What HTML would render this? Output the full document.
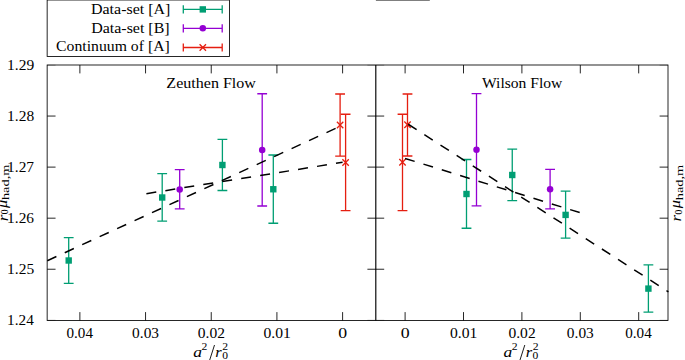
<!DOCTYPE html>
<html><head><meta charset="utf-8"><style>
html,body{margin:0;padding:0;background:#fff;}
body{width:685px;height:360px;overflow:hidden;}
svg{display:block;font-family:'Liberation Serif', serif;}
text{fill:#000;}
</style></head><body>
<svg width="685" height="360" viewBox="0 0 685 360">
<line x1="375.9" y1="0" x2="429.8" y2="0" stroke="#000" stroke-width="1.0"/>
<rect x="47.15" y="0" width="182.35" height="56.5" fill="none" stroke="#000" stroke-width="0.85"/>
<rect x="47.15" y="65.0" width="620.85" height="255.5" fill="none" stroke="#000" stroke-width="0.85"/>
<line x1="375.8" y1="65.0" x2="375.8" y2="320.5" stroke="#000" stroke-width="1.15"/>
<path d="M47.15,116.06L55.55,116.06M367.40,116.06L384.20,116.06M659.60,116.06L668.00,116.06M47.15,167.12L55.55,167.12M367.40,167.12L384.20,167.12M659.60,167.12L668.00,167.12M47.15,218.18L55.55,218.18M367.40,218.18L384.20,218.18M659.60,218.18L668.00,218.18M47.15,269.24L55.55,269.24M367.40,269.24L384.20,269.24M659.60,269.24L668.00,269.24M79.88,320.50L79.88,312.10M79.88,65.00L79.88,73.40M638.70,320.50L638.70,312.10M638.70,65.00L638.70,73.40M145.56,320.50L145.56,312.10M145.56,65.00L145.56,73.40M580.30,320.50L580.30,312.10M580.30,65.00L580.30,73.40M211.24,320.50L211.24,312.10M211.24,65.00L211.24,73.40M521.90,320.50L521.90,312.10M521.90,65.00L521.90,73.40M276.92,320.50L276.92,312.10M276.92,65.00L276.92,73.40M463.50,320.50L463.50,312.10M463.50,65.00L463.50,73.40M342.60,320.50L342.60,312.10M342.60,65.00L342.60,73.40M405.10,320.50L405.10,312.10M405.10,65.00L405.10,73.40" stroke="#000" stroke-width="0.85" fill="none"/>
<path d="M47.15,65.25L55.55,65.25M367.40,65.25L384.20,65.25M659.60,65.25L668.00,65.25M47.15,320.25L55.55,320.25M367.40,320.25L384.20,320.25M659.60,320.25L668.00,320.25" stroke="#000" stroke-width="0.85" stroke-opacity="0.3" fill="none"/>
<text x="7.07" y="69.70" font-size="14.6" textLength="27.11" lengthAdjust="spacingAndGlyphs">1.29</text>
<text x="7.07" y="120.76" font-size="14.6" textLength="27.11" lengthAdjust="spacingAndGlyphs">1.28</text>
<text x="7.08" y="171.82" font-size="14.6" textLength="26.97" lengthAdjust="spacingAndGlyphs">1.27</text>
<text x="7.08" y="222.88" font-size="14.6" textLength="26.97" lengthAdjust="spacingAndGlyphs">1.26</text>
<text x="7.07" y="273.94" font-size="14.6" textLength="27.11" lengthAdjust="spacingAndGlyphs">1.25</text>
<text x="7.09" y="325.00" font-size="14.6" textLength="26.69" lengthAdjust="spacingAndGlyphs">1.24</text>
<text x="66.46" y="338.00" font-size="14.6" textLength="26.50" lengthAdjust="spacingAndGlyphs">0.04</text>
<text x="625.28" y="338.00" font-size="14.6" textLength="26.50" lengthAdjust="spacingAndGlyphs">0.04</text>
<text x="132.13" y="338.00" font-size="14.6" textLength="26.91" lengthAdjust="spacingAndGlyphs">0.03</text>
<text x="566.87" y="338.00" font-size="14.6" textLength="26.91" lengthAdjust="spacingAndGlyphs">0.03</text>
<text x="197.81" y="338.00" font-size="14.6" textLength="27.18" lengthAdjust="spacingAndGlyphs">0.02</text>
<text x="508.47" y="338.00" font-size="14.6" textLength="27.18" lengthAdjust="spacingAndGlyphs">0.02</text>
<text x="263.49" y="338.00" font-size="14.6" textLength="27.32" lengthAdjust="spacingAndGlyphs">0.01</text>
<text x="450.07" y="338.00" font-size="14.6" textLength="27.32" lengthAdjust="spacingAndGlyphs">0.01</text>
<text x="338.19" y="338.00" font-size="14.6" textLength="8.88" lengthAdjust="spacingAndGlyphs">0</text>
<text x="400.69" y="338.00" font-size="14.6" textLength="8.88" lengthAdjust="spacingAndGlyphs">0</text>
<text x="193.20" y="356.60" font-size="14.6" font-style="italic" textLength="8.76" lengthAdjust="spacingAndGlyphs">a</text>
<text x="201.55" y="350.10" font-size="9.6" textLength="5.82" lengthAdjust="spacingAndGlyphs">2</text>
<path d="M209.50,360.6L214.50,345.0" stroke="#000" stroke-width="0.9" fill="none"/>
<text x="215.39" y="356.50" font-size="14.6" font-style="italic" textLength="6.43" lengthAdjust="spacingAndGlyphs">r</text>
<text x="222.35" y="349.90" font-size="9.6" textLength="5.82" lengthAdjust="spacingAndGlyphs">2</text>
<text x="222.15" y="359.20" font-size="9.6" textLength="5.76" lengthAdjust="spacingAndGlyphs">0</text>
<text x="503.50" y="356.60" font-size="14.6" font-style="italic" textLength="8.76" lengthAdjust="spacingAndGlyphs">a</text>
<text x="511.85" y="350.10" font-size="9.6" textLength="5.82" lengthAdjust="spacingAndGlyphs">2</text>
<path d="M519.80,360.6L524.80,345.0" stroke="#000" stroke-width="0.9" fill="none"/>
<text x="525.69" y="356.50" font-size="14.6" font-style="italic" textLength="6.43" lengthAdjust="spacingAndGlyphs">r</text>
<text x="532.65" y="349.90" font-size="9.6" textLength="5.82" lengthAdjust="spacingAndGlyphs">2</text>
<text x="532.45" y="359.20" font-size="9.6" textLength="5.76" lengthAdjust="spacingAndGlyphs">0</text>
<g transform="translate(6.90,220.80) rotate(-90)">
<text x="-0.43" y="0.80" font-size="14.6" font-style="italic" textLength="6.65" lengthAdjust="spacingAndGlyphs">r</text>
<text x="6.62" y="1.30" font-size="9.6" textLength="4.80" lengthAdjust="spacingAndGlyphs">0</text>
<text x="12.70" y="0.00" font-size="14.6" font-style="italic" textLength="8.21" lengthAdjust="spacingAndGlyphs">μ</text>
<text x="20.71" y="2.50" font-size="9.6" textLength="35.54" lengthAdjust="spacingAndGlyphs">had,m</text>
</g>
<g transform="translate(680.40,221.00) rotate(-90)">
<text x="-0.43" y="0.80" font-size="14.6" font-style="italic" textLength="6.65" lengthAdjust="spacingAndGlyphs">r</text>
<text x="6.62" y="1.30" font-size="9.6" textLength="4.80" lengthAdjust="spacingAndGlyphs">0</text>
<text x="12.70" y="0.00" font-size="14.6" font-style="italic" textLength="8.21" lengthAdjust="spacingAndGlyphs">μ</text>
<text x="20.71" y="2.50" font-size="9.6" textLength="35.54" lengthAdjust="spacingAndGlyphs">had,m</text>
</g>
<text x="166.38" y="88.00" font-size="14.6" textLength="89.53" lengthAdjust="spacingAndGlyphs">Zeuthen Flow</text>
<text x="482.00" y="87.80" font-size="14.6" textLength="80.31" lengthAdjust="spacingAndGlyphs">Wilson Flow</text>
<text x="90.99" y="14.10" font-size="14.6" textLength="79.37" lengthAdjust="spacingAndGlyphs">Data-set [A]</text>
<text x="91.19" y="32.70" font-size="14.6" textLength="78.44" lengthAdjust="spacingAndGlyphs">Data-set [B]</text>
<text x="56.08" y="51.40" font-size="14.6" textLength="113.67" lengthAdjust="spacingAndGlyphs">Continuum of [A]</text>
<path d="M183.3,9.4H222.2M183.3,5.300000000000001V13.5M222.2,5.300000000000001V13.5" stroke="#009e73" stroke-width="1.3" fill="none"/>
<rect x="199.60" y="6.20" width="6.4" height="6.4" fill="#009e73"/>
<path d="M183.3,28.3H222.2M183.3,24.200000000000003V32.4M222.2,24.200000000000003V32.4" stroke="#9400d3" stroke-width="1.3" fill="none"/>
<circle cx="202.80" cy="28.30" r="3.25" fill="#9400d3"/>
<path d="M183.3,47.5H222.2M183.3,43.4V51.6M222.2,43.4V51.6" stroke="#e51e10" stroke-width="1.3" fill="none"/>
<path d="M199.60,44.30L206.00,50.70M199.60,50.70L206.00,44.30" stroke="#e51e10" stroke-width="1.3" fill="none"/>
<path d="M68.70,237.60V283.40M63.80,237.60H73.60M63.80,283.40H73.60" stroke="#009e73" stroke-width="1.3" fill="none"/><rect x="65.50" y="257.30" width="6.4" height="6.4" fill="#009e73"/>
<path d="M162.20,173.70V221.20M157.30,173.70H167.10M157.30,221.20H167.10" stroke="#009e73" stroke-width="1.3" fill="none"/><rect x="159.00" y="194.30" width="6.4" height="6.4" fill="#009e73"/>
<path d="M222.40,139.30V190.50M217.50,139.30H227.30M217.50,190.50H227.30" stroke="#009e73" stroke-width="1.3" fill="none"/><rect x="219.20" y="161.80" width="6.4" height="6.4" fill="#009e73"/>
<path d="M273.30,155.00V223.25M268.40,155.00H278.20M268.40,223.25H278.20" stroke="#009e73" stroke-width="1.3" fill="none"/><rect x="270.10" y="186.05" width="6.4" height="6.4" fill="#009e73"/>
<path d="M179.70,169.70V208.80M174.80,169.70H184.60M174.80,208.80H184.60" stroke="#9400d3" stroke-width="1.3" fill="none"/><circle cx="179.70" cy="189.50" r="3.25" fill="#9400d3"/>
<path d="M262.20,93.75V206.00M257.30,93.75H267.10M257.30,206.00H267.10" stroke="#9400d3" stroke-width="1.3" fill="none"/><circle cx="262.20" cy="150.00" r="3.25" fill="#9400d3"/>
<path d="M340.10,94.00V156.10M335.20,94.00H345.00M335.20,156.10H345.00" stroke="#e51e10" stroke-width="1.3" fill="none"/><path d="M336.90,121.80L343.30,128.20M336.90,128.20L343.30,121.80" stroke="#e51e10" stroke-width="1.3" fill="none"/>
<path d="M345.60,114.25V210.60M340.70,114.25H350.50M340.70,210.60H350.50" stroke="#e51e10" stroke-width="1.3" fill="none"/><path d="M342.40,159.30L348.80,165.70M342.40,165.70L348.80,159.30" stroke="#e51e10" stroke-width="1.3" fill="none"/>
<path d="M466.50,159.50V228.25M461.60,159.50H471.40M461.60,228.25H471.40" stroke="#009e73" stroke-width="1.3" fill="none"/><rect x="463.30" y="190.80" width="6.4" height="6.4" fill="#009e73"/>
<path d="M512.25,149.10V200.70M507.35,149.10H517.15M507.35,200.70H517.15" stroke="#009e73" stroke-width="1.3" fill="none"/><rect x="509.05" y="171.80" width="6.4" height="6.4" fill="#009e73"/>
<path d="M565.60,191.20V238.20M560.70,191.20H570.50M560.70,238.20H570.50" stroke="#009e73" stroke-width="1.3" fill="none"/><rect x="562.40" y="211.70" width="6.4" height="6.4" fill="#009e73"/>
<path d="M648.40,264.90V312.10M643.50,264.90H653.30M643.50,312.10H653.30" stroke="#009e73" stroke-width="1.3" fill="none"/><rect x="645.20" y="285.40" width="6.4" height="6.4" fill="#009e73"/>
<path d="M476.50,93.60V205.90M471.60,93.60H481.40M471.60,205.90H481.40" stroke="#9400d3" stroke-width="1.3" fill="none"/><circle cx="476.50" cy="149.70" r="3.25" fill="#9400d3"/>
<path d="M550.10,169.40V208.90M545.20,169.40H555.00M545.20,208.90H555.00" stroke="#9400d3" stroke-width="1.3" fill="none"/><circle cx="550.10" cy="189.30" r="3.25" fill="#9400d3"/>
<path d="M407.50,94.00V156.00M402.60,94.00H412.40M402.60,156.00H412.40" stroke="#e51e10" stroke-width="1.3" fill="none"/><path d="M404.30,121.55L410.70,127.95M404.30,127.95L410.70,121.55" stroke="#e51e10" stroke-width="1.3" fill="none"/>
<path d="M402.50,114.25V210.60M397.60,114.25H407.40M397.60,210.60H407.40" stroke="#e51e10" stroke-width="1.3" fill="none"/><path d="M399.30,159.05L405.70,165.45M399.30,165.45L405.70,159.05" stroke="#e51e10" stroke-width="1.3" fill="none"/>
<line x1="47.30" y1="260.71" x2="342.60" y2="125.17" stroke="#000" stroke-width="1.5" stroke-dasharray="10 9.2" stroke-dashoffset="0"/>
<line x1="146.40" y1="193.68" x2="342.60" y2="162.29" stroke="#000" stroke-width="1.5" stroke-dasharray="10 9.2" stroke-dashoffset="0"/>
<line x1="408.20" y1="124.25" x2="668.40" y2="291.82" stroke="#000" stroke-width="1.5" stroke-dasharray="10 9.2" stroke-dashoffset="0"/>
<line x1="405.10" y1="158.44" x2="580.30" y2="212.76" stroke="#000" stroke-width="1.5" stroke-dasharray="10 9.2" stroke-dashoffset="0"/>
</svg>
</body></html>
